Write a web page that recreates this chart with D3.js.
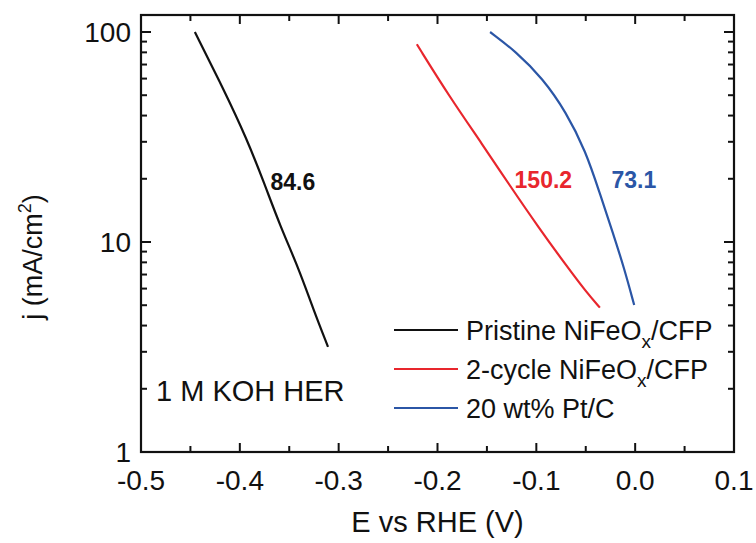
<!DOCTYPE html>
<html><head><meta charset="utf-8">
<script src="https://cdn.jsdelivr.net/npm/d3@7"></script>
<style>body{margin:0;background:#fff}svg{display:block}text{font-family:"Liberation Sans",Arial,sans-serif}</style>
</head><body><svg id="c" width="756" height="543"></svg>
<script>
const xTicks = [-0.5,-0.4,-0.3,-0.2,-0.1,0.0,0.1];
const yTicks = [1,10,100];
const pristineE = [-0.4455,-0.4169,-0.3932,-0.3750,-0.3596,-0.3400,-0.3260,-0.3108];
const pristineJ = [100,53.9,31.2,18.9,12.05,7.4,4.83,3.17];
const cycleE = [-0.2209,-0.1879,-0.1542,-0.1273,-0.0970,-0.0700,-0.0498,-0.0357];
const cycleJ = [87.4,49.2,29.0,18.7,11.6,7.76,5.80,4.87];
const ptE = [-0.1468,-0.1205,-0.0936,-0.0700,-0.0498,-0.0364,-0.0229,-0.0111,-0.0010];
const ptJ = [100,80.6,60.1,41.7,26.9,17.4,11.2,7.5,5.01];
const seriesNames = ["Pristine NiFeO","2-cycle NiFeO","20 wt% Pt/C"];
const seriesColors = ["#111111","#e8262d","#2b56a6"];
const slopeLabels = ["84.6","150.2","73.1"];
const slopeE = [-0.369,-0.122,-0.024];

const svg = d3.select("#c");
const L=141,R=734,T=15,B=452,Y100=32;
const x = d3.scaleLinear().domain([-0.5,0.1]).range([L,R]);
const y = d3.scaleLog().domain([1,Math.pow(10,2*(B-T)/(B-Y100))]).range([B,T]);

const minorX = d3.range(-0.5,0.1001,0.05);
const minorY = [];
[1,10].forEach(d=>{for(let k=2;k<=9;k++)minorY.push(d*k);});
const g = svg.append("g");
const tk = (x1,y1,x2,y2)=>g.append("line").attr("x1",x1).attr("y1",y1).attr("x2",x2).attr("y2",y2).attr("stroke","#111").attr("stroke-width",2);
minorX.forEach(v=>{const px=x(v);const maj=xTicks.some(t=>Math.abs(t-v)<1e-6);const len=maj?9:6;tk(px,B,px,B-len);tk(px,T,px,T+len);});
yTicks.concat(minorY).forEach(v=>{const py=y(v);const maj=yTicks.includes(v);const len=maj?10:6;tk(L,py,L+len,py);tk(R,py,R-len,py);});
g.append("rect").attr("x",L).attr("y",T).attr("width",R-L).attr("height",B-T).attr("fill","none").attr("stroke","#111").attr("stroke-width",2.2);

xTicks.forEach(v=>g.append("text").attr("x",x(v)).attr("y",B+38).attr("text-anchor","middle").attr("font-size",28).attr("fill","#111").text(v.toFixed(1)));
yTicks.forEach(v=>g.append("text").attr("x",L-10).attr("y",y(v)+10).attr("text-anchor","end").attr("font-size",28).attr("fill","#111").text(v));

svg.append("text").attr("x",(L+R)/2+0).attr("y",532).attr("text-anchor","middle").attr("font-size",29).attr("fill","#111").text("E vs RHE (V)");
const yl = svg.append("text").attr("transform","translate(42,257) rotate(-90)").attr("text-anchor","middle").attr("font-size",27).attr("fill","#111");
yl.append("tspan").text("j (mA/cm");
yl.append("tspan").attr("dy",-11).attr("font-size",18).text("2");
yl.append("tspan").attr("dy",11).text(")");

const data=[[pristineE,pristineJ],[cycleE,cycleJ],[ptE,ptJ]];
const line=d3.line().x(d=>x(d[0])).y(d=>y(d[1])).curve(d3.curveBasis);
data.forEach((s,i)=>{
  const pts=s[0].map((e,k)=>[e,s[1][k]]);
  svg.append("path").attr("d",line(pts)).attr("fill","none").attr("stroke",seriesColors[i]).attr("stroke-width",2.2);
});
const labY=[190,188,188];
slopeLabels.forEach((t,i)=>svg.append("text").attr("x",x(slopeE[i])).attr("y",labY[i]).attr("font-size",23).attr("font-weight","bold").attr("fill",seriesColors[i]).text(t));

svg.append("text").attr("x",156).attr("y",401).attr("font-size",29).attr("fill","#111").text("1 M KOH HER");

const legY=[330,369,408];
seriesNames.forEach((n,i)=>{
  svg.append("line").attr("x1",394).attr("x2",458).attr("y1",legY[i]).attr("y2",legY[i]).attr("stroke",seriesColors[i]).attr("stroke-width",2.2);
  const t=svg.append("text").attr("x",466).attr("y",legY[i]+10).attr("font-size",27).attr("fill","#111");
  t.append("tspan").text(n);
  if(i<2){t.append("tspan").attr("dy",8).attr("font-size",19).text("x");t.append("tspan").attr("dy",-8).text("/CFP");}
});
</script></body></html>
